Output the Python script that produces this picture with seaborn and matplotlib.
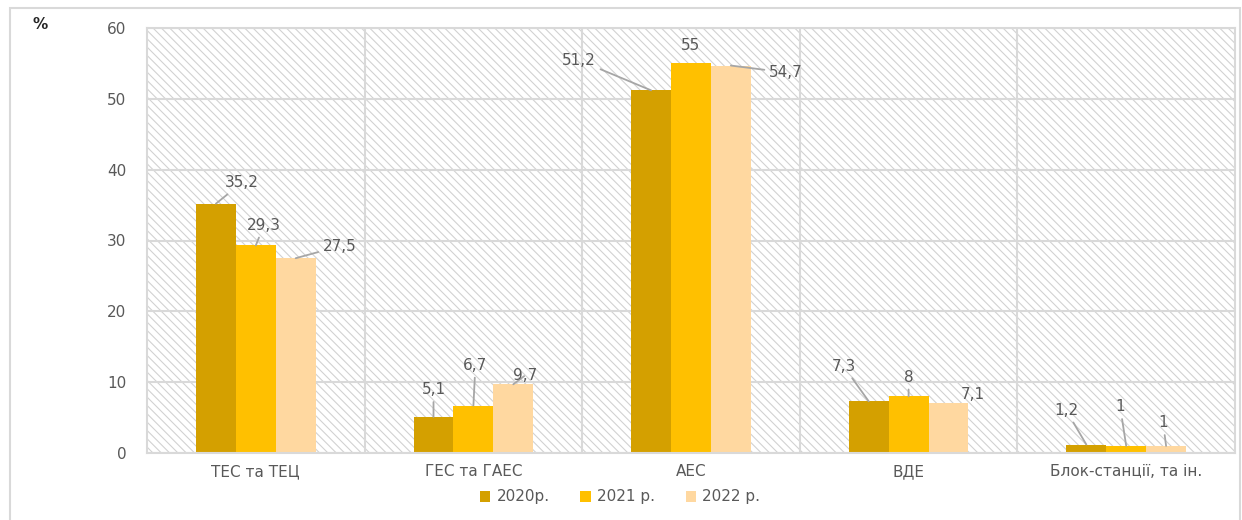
import matplotlib
matplotlib.use("Agg")
import matplotlib.pyplot as plt
import seaborn as sns
import pandas as pd
from matplotlib.patches import Rectangle

categories = ["ТЕС та ТЕЦ", "ГЕС та ГАЕС", "АЕС", "ВДЕ", "Блок-станції, та ін."]
years = ["2020р.", "2021 р.", "2022 р."]
values_2020 = [35.2, 5.1, 51.2, 7.3, 1.2]
values_2021 = [29.3, 6.7, 55.0, 8.0, 1.0]
values_2022 = [27.5, 9.7, 54.7, 7.1, 1.0]
yticks = [0, 10, 20, 30, 40, 50, 60]

colors = ["#D4A000", "#FFC000", "#FFD8A0"]
text_color = "#595959"
grid_color = "#D9D9D9"

# label offsets in pixels (dx, dy) from each bar top, and whether a leader line is drawn
label_offsets = {
    "2020р.": [(26, 21), (0, 27), (-72, 30), (-25, 35), (-20, 34)],
    "2021 р.": [(8, 20), (2, 40), (0, 18), (0, 19), (-6, 39)],
    "2022 р.": [(44, 12), (12, 9), (55, -7), (24, 8), (-3, 23)],
}
leader = {
    "2020р.": [True, True, True, True, True],
    "2021 р.": [True, True, False, True, True],
    "2022 р.": [True, True, True, False, True],
}

rows = []
for yr, vals in zip(years, [values_2020, values_2021, values_2022]):
    for c, v in zip(categories, vals):
        rows.append({"cat": c, "year": yr, "val": v})
df = pd.DataFrame(rows)

sns.set_theme(style="white")
plt.rcParams["font.family"] = ["DejaVu Sans"]
plt.rcParams["hatch.linewidth"] = 0.8

fig = plt.figure(figsize=(12.42, 5.2), dpi=100)
ax = fig.add_axes([147 / 1242, 1 - 453 / 520, (1235 - 147) / 1242, (453 - 28) / 520])

ax.patch.set_facecolor("white")
ax.patch.set_edgecolor("#D2D2D2")
ax.patch.set_hatch("\\\\\\\\")

sns.barplot(data=df, x="cat", y="val", hue="year", order=categories, hue_order=years,
            palette=colors, width=0.55, ax=ax, saturation=1, legend=True, linewidth=0)

fs = 11
ax.set_ylim(0, 60)
ax.set_xlim(-0.5, len(categories) - 0.5)
ax.set_yticks(yticks)
ax.set_yticklabels([str(t) for t in yticks])
ax.set_xlabel("")
ax.set_ylabel("")
ax.tick_params(axis="y", length=0, pad=15, labelsize=fs, labelcolor=text_color)
ax.tick_params(axis="x", length=0, pad=8, labelsize=fs, labelcolor=text_color)

ax.set_xticks([i + 0.5 for i in range(len(categories) - 1)], minor=True)
ax.grid(axis="y", which="major", color=grid_color, linewidth=1.5)
ax.grid(axis="x", which="minor", color=grid_color, linewidth=1.5)
ax.grid(axis="x", which="major", visible=False)
ax.set_axisbelow(True)
for s in ax.spines.values():
    s.set_color(grid_color)
    s.set_linewidth(1.5)

# data labels
for container, yr in zip(ax.containers, years):
    for i, bar in enumerate(container.patches):
        v = bar.get_height()
        x = bar.get_x() + bar.get_width() / 2
        dx, dy = label_offsets[yr][i]
        txt = f"{v:g}".replace(".", ",")
        ap = dict(arrowstyle="-", color="#A6A6A6", lw=1.3, shrinkA=1, shrinkB=0) if leader[yr][i] else None
        ax.annotate(txt, xy=(x, v), xytext=(dx, dy), textcoords="offset pixels",
                    ha="center", va="center", fontsize=fs, color=text_color,
                    arrowprops=ap, zorder=5)

# legend
handles, labels = ax.get_legend_handles_labels()
ax.legend_.remove()
fig.legend(handles, labels, loc="center", bbox_to_anchor=(620 / 1242, 1 - 497 / 520),
           ncol=3, frameon=False, fontsize=fs, labelcolor=text_color,
           handlelength=0.7, handleheight=0.7, handletextpad=0.4, columnspacing=2.0)

fig.text(40 / 1242, 1 - 24 / 520, "%", fontsize=11, color="#262626", ha="center", va="center",
         fontweight="bold")

fig.patches.append(Rectangle((10 / 1242, -0.01), 1230 / 1242, 1 - 8 / 520 + 0.01,
                             transform=fig.transFigure, fill=False, edgecolor=grid_color,
                             linewidth=1.5))

fig.savefig("out.png", dpi=100)
